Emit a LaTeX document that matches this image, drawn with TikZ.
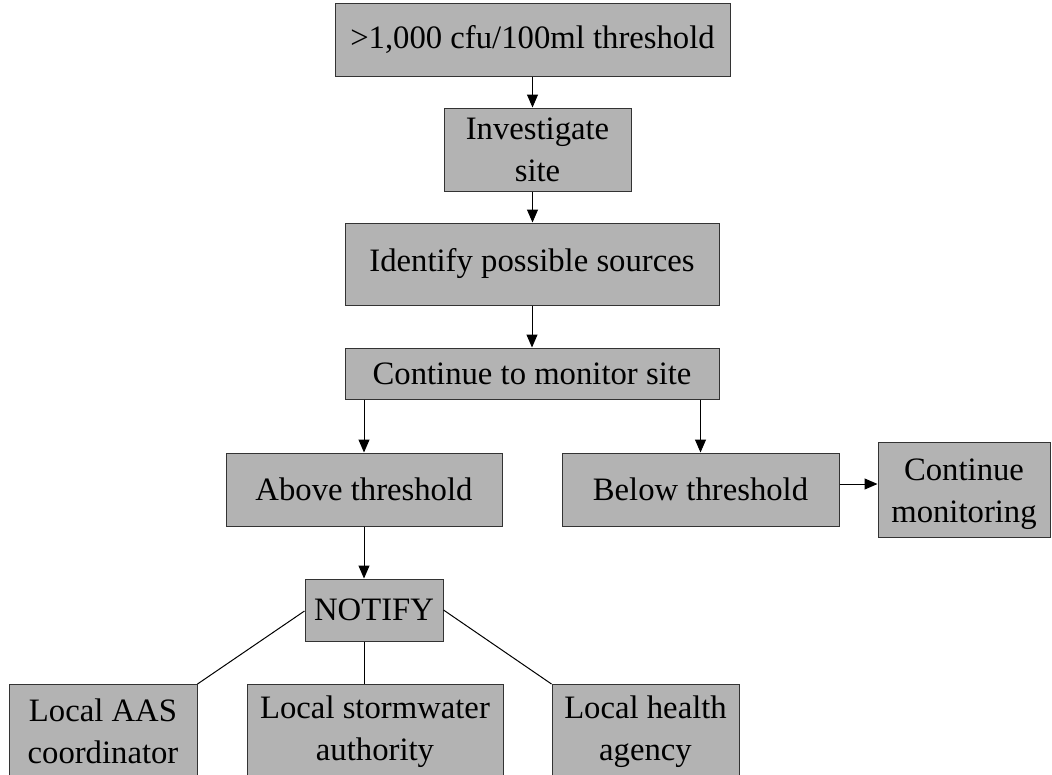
\documentclass[tikz,border=0pt]{standalone}
\usepackage{fontspec}
\setmainfont{Liberation Serif}
\usepackage{tikz}
\usetikzlibrary{positioning,arrows.meta,calc}
\usepackage{xcolor}
\definecolor{boxfill}{HTML}{B3B3B3}
\definecolor{boxline}{HTML}{333333}

\begin{document}
\begin{tikzpicture}[x=1pt,y=-1pt,line width=1pt,>={Triangle[length=13pt,width=11pt]},
  box/.style={draw=boxline,fill=boxfill,inner sep=0pt,align=center,
    font=\fontsize{32.7}{42}\selectfont}]
\useasboundingbox (0,0) rectangle (1052,774);
\clip (0,0) rectangle (1052,774);
\node[box,minimum width=395pt,minimum height=73pt] (top) at (532.5,39.5) {>1,000 cfu/100ml threshold};
\node[box,minimum width=187pt,minimum height=83pt] (inv) at (537.5,149.5) {Investigate\\site};
\node[box,minimum width=374pt,minimum height=82pt] (src) at (532,264) {Identify possible sources};
\node[box,minimum width=374pt,minimum height=51pt] (mon) at (532,373.5) {Continue to monitor site};
\node[box,minimum width=276pt,minimum height=73pt] (abv) at (364,489.5) {Above threshold};
\node[box,minimum width=277pt,minimum height=73pt] (blw) at (700.5,489.5) {Below threshold};
\node[box,minimum width=172pt,minimum height=95pt] (cmo) at (964,489.5) {\rule{0pt}{32pt}Continue\\monitoring};
\node[box,minimum width=138pt,minimum height=62pt] (ntf) at (374,610) {NOTIFY};
\node[box,minimum width=188pt,minimum height=94pt,anchor=north] (aas) at (103,684) {Local AAS\\coordinator};
\node[box,minimum width=256pt,minimum height=94pt,anchor=north] (stw) at (375,684) {Local stormwater\\authority};
\node[box,minimum width=187pt,minimum height=94pt,anchor=north] (hlt) at (645.5,684) {Local health\\agency};
% arrows down the chain
\draw[->] (top.south) -- (top.south |- inv.north);
\draw[->] (inv.south -| top.south) -- (src.north -| top.south);
\draw[->] (src.south) -- (mon.north);
\draw[->] (abv.north |- mon.south) -- (abv.north);
\draw[->] (blw.north |- mon.south) -- (blw.north);
\draw[->] (blw.east |- 0,484) -- (cmo.west |- 0,484);
\draw[->] (abv.south) -- (abv.south |- ntf.north);
% notify lines
\draw (ntf.west |- 0,611) -- (aas.north east);
\draw (ntf.south -| abv.south) -- (stw.north -| abv.south);
\draw (ntf.east |- 0,610) -- (hlt.north west);
\end{tikzpicture}
\end{document}
